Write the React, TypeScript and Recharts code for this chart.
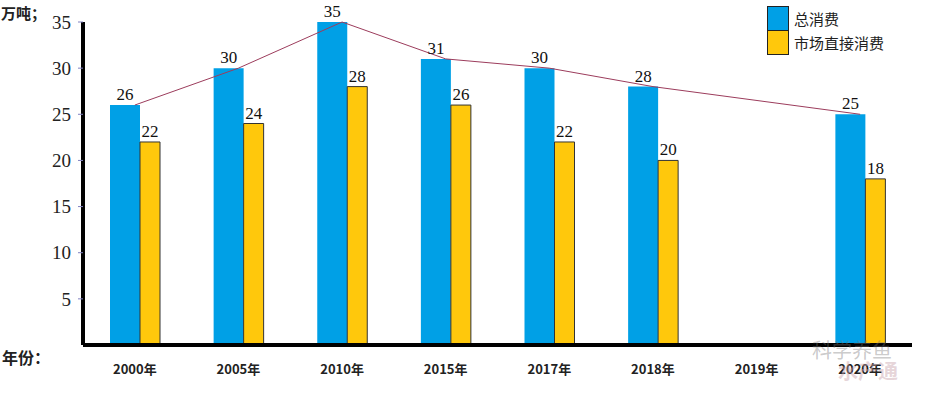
import {
  ComposedChart, Bar, Line, XAxis, YAxis, LabelList,
} from 'recharts';

const years = ['2000年', '2005年', '2010年', '2015年', '2017年', '2018年', '2019年', '2020年'];
const totalUse = [26, 30, 35, 31, 30, 28, null, 25];
const marketUse = [22, 24, 28, 26, 22, 20, null, 18];
const yTicks = [5, 10, 15, 20, 25, 30, 35];

const BLUE = '#00A0E6';
const YELLOW = '#FFC80C';

const data = years.map((y, i) => ({ year: y, total: totalUse[i], market: marketUse[i] }));

const serif = '"Liberation Serif", "DejaVu Serif", serif';
const cjk = '"Noto Sans CJK SC", "Noto Sans", sans-serif';

function Legend() {
  return (
    <div style={{ position: 'absolute', left: 767, top: 6, fontFamily: cjk, fontSize: 15, color: '#222' }}>
      <div style={{ display: 'flex', alignItems: 'center', height: 24 }}>
        <div style={{ width: 20, height: 23, background: BLUE, border: '1px solid #222', borderBottom: 'none' }} />
        <span style={{ marginLeft: 5 }}>总消费</span>
      </div>
      <div style={{ display: 'flex', alignItems: 'center', height: 24 }}>
        <div style={{ width: 20, height: 23, background: YELLOW, border: '1px solid #222' }} />
        <span style={{ marginLeft: 5 }}>市场直接消费</span>
      </div>
    </div>
  );
}

export default function App() {
  return (
    <div style={{ position: 'absolute', left: 0, top: 0, width: 932, height: 393, background: '#fff' }}>
      <ComposedChart
        width={932}
        height={393}
        data={data}
        margin={{ top: 22, right: 20, left: 0, bottom: 0 }}
        barGap={0}
      >
        <XAxis
          dataKey="year"
          height={48}
          axisLine={{ stroke: '#000', strokeWidth: 4 }}
          tickLine={false}
          tick={{ fontSize: 13, fontWeight: 700, fill: '#222', fontFamily: cjk }}
          tickMargin={14}
        />
        <YAxis
          domain={[0, 35]}
          ticks={yTicks}
          width={83}
          axisLine={{ stroke: '#000', strokeWidth: 4 }}
          tickLine={{ stroke: '#8080c0' }}
          tickSize={5}
          tickMargin={7}
          tick={{ fontSize: 19, fill: '#222', fontFamily: serif }}
        />
        <Bar dataKey="total" fill={BLUE} barSize={30} isAnimationActive={false}>
          <LabelList dataKey="total" position="top" offset={5} style={{ fontSize: 17, fill: '#111', fontFamily: serif }} />
        </Bar>
        <Bar dataKey="market" fill={YELLOW} stroke="#333" strokeWidth={1} barSize={20} isAnimationActive={false}>
          <LabelList dataKey="market" position="top" offset={5} style={{ fontSize: 17, fill: '#111', fontFamily: serif }} />
        </Bar>
        <Line
          dataKey="total"
          stroke="#9c3c5c"
          strokeWidth={1}
          dot={false}
          connectNulls
          isAnimationActive={false}
        />
      </ComposedChart>
      <div style={{ position: 'absolute', left: 1, top: 2, fontFamily: cjk, fontWeight: 700, fontSize: 15, color: '#222' }}>万吨；</div>
      <div style={{ position: 'absolute', left: 2, top: 345, fontFamily: cjk, fontWeight: 700, fontSize: 16, color: '#222' }}>年份：</div>
      <Legend />
      <div style={{ position: 'absolute', left: 812, top: 335, fontFamily: cjk, fontSize: 20, color: 'rgba(120,120,120,0.4)' }}>科学养鱼</div>
      <div style={{ position: 'absolute', left: 838, top: 356, fontFamily: cjk, fontWeight: 700, fontSize: 20, color: 'rgba(200,160,170,0.45)' }}>水产通</div>
    </div>
  );
}
